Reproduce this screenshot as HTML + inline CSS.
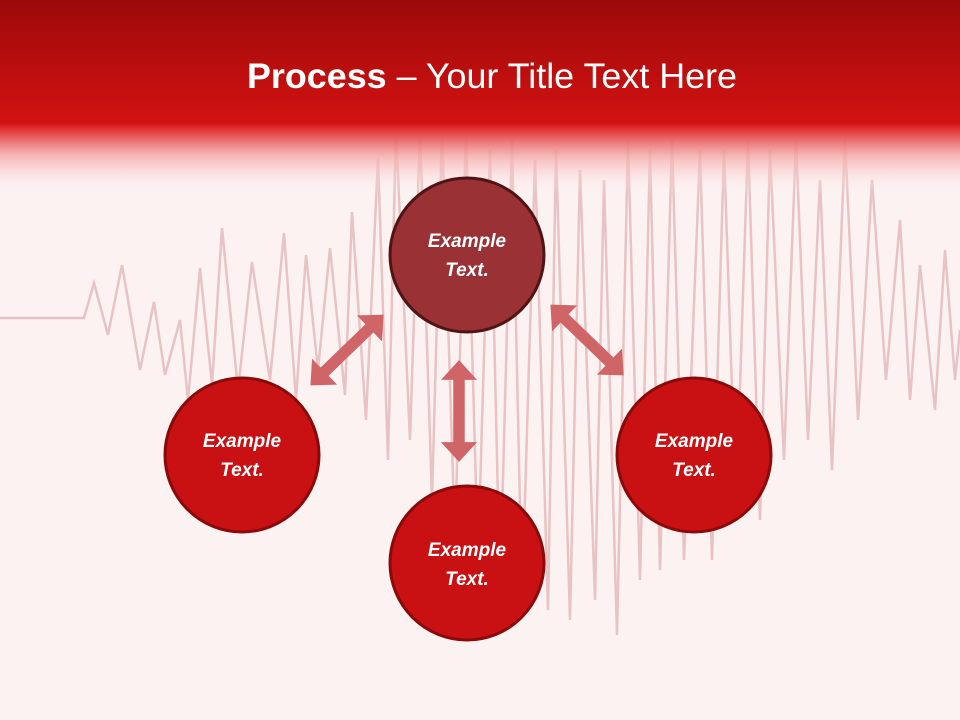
<!DOCTYPE html>
<html><head><meta charset="utf-8"><style>
body{margin:0;width:960px;height:720px;overflow:hidden;background:#fdf2f2;font-family:"Liberation Sans",sans-serif}
</style></head><body>
<svg width="960" height="720" viewBox="0 0 960 720" style="position:absolute;left:0;top:0">
<defs>
<linearGradient id="hd" x1="0" y1="0" x2="0" y2="1">
<stop offset="0" stop-color="#9c0909"/>
<stop offset="0.63" stop-color="#d31212"/>
<stop offset="0.67" stop-color="#e43a3a"/>
<stop offset="0.8" stop-color="#f4a8a8" stop-opacity="0.8"/>
<stop offset="1" stop-color="#fdf2f2" stop-opacity="0"/>
</linearGradient>
<g id="arr"><polygon points="0,-7 -38,-7 -38,-22 -62,0 -38,22 -38,7 0,7 38,7 38,22 62,0 38,-22 38,-7" fill="#d06568"/></g>
</defs>
<rect width="960" height="720" fill="#fdf2f2"/>
<polyline fill="none" stroke="#e9c3c3" stroke-width="2.5" stroke-linejoin="miter" points="0,318 84,318 94,283 108,335 122,265 140,370 154,302 165,375 180,320 188,400 200,268 212,385 222,228 238,390 252,262 270,380 284,233 296,400 306,255 318,370 330,248 345,395 352,212 366,420 378,158 388,460 396,130 410,440 420,130 432,500 442,130 455,540 466,130 478,560 490,150 500,590 512,140 522,600 535,160 548,610 556,150 570,620 580,170 595,600 604,180 617,635 628,140 640,580 650,150 660,570 672,140 684,560 700,150 712,560 724,150 736,510 748,140 760,520 770,150 784,460 796,140 808,440 820,180 832,470 845,140 858,420 872,180 886,380 900,220 910,400 920,265 935,410 945,250 955,380 960,330"/>
<rect width="960" height="195" fill="url(#hd)"/>
<text x="492" y="88" text-anchor="middle" fill="#fff" font-family="Liberation Sans, sans-serif" font-size="35" textLength="490" lengthAdjust="spacingAndGlyphs"><tspan font-weight="bold">Process</tspan> – Your Title Text Here</text>
<use href="#arr" transform="translate(347,350) rotate(-44) scale(0.82)"/>
<use href="#arr" transform="translate(587,340) rotate(44) scale(0.82)"/>
<use href="#arr" transform="translate(459,411) rotate(90) scale(0.82)"/>
<g font-family="Liberation Sans, sans-serif" font-size="19" font-weight="bold" font-style="italic" fill="#fff" text-anchor="middle">
<circle cx="467" cy="255" r="77" fill="#9a3135" stroke="#501414" stroke-width="3"/>
<text x="467" y="247">Example</text><text x="467" y="276">Text.</text>
<circle cx="242" cy="455" r="77" fill="#c91012" stroke="#8a0a0a" stroke-width="3"/>
<text x="242" y="447">Example</text><text x="242" y="476">Text.</text>
<circle cx="467" cy="563" r="77" fill="#c91012" stroke="#8a0a0a" stroke-width="3"/>
<text x="467" y="556">Example</text><text x="467" y="585">Text.</text>
<circle cx="694" cy="455" r="77" fill="#c91012" stroke="#8a0a0a" stroke-width="3"/>
<text x="694" y="447">Example</text><text x="694" y="476">Text.</text>
</g>
</svg>
</body></html>
